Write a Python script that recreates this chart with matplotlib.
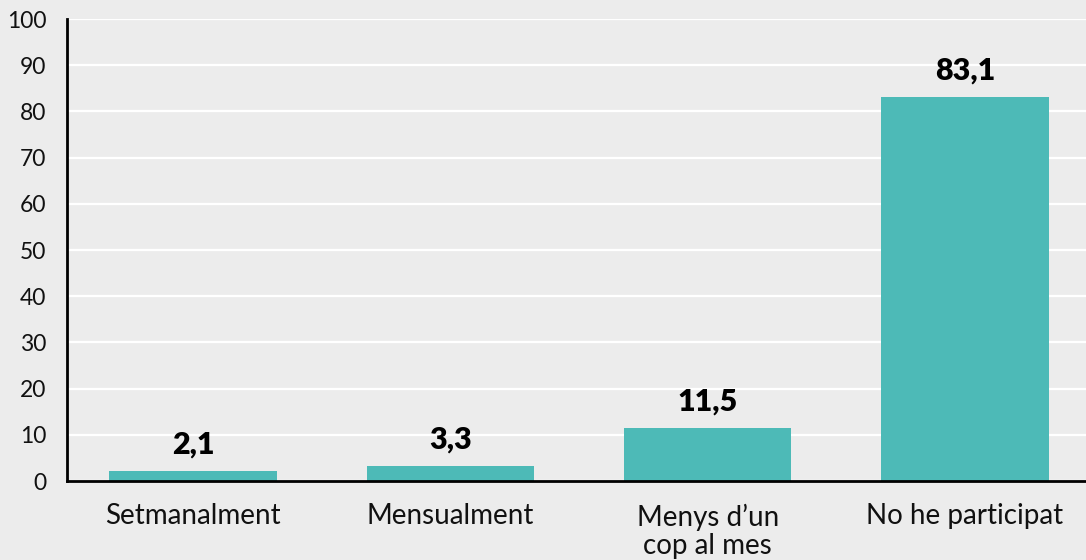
import matplotlib.pyplot as plt

categories = ["Setmanalment", "Mensualment", "Menys d\u2019un\ncop al mes", "No he participat"]
values = [2.1, 3.3, 11.5, 83.1]
value_labels = ["2,1", "3,3", "11,5", "83,1"]
y_ticks = [0, 10, 20, 30, 40, 50, 60, 70, 80, 90, 100]

BG = "#ececec"
BAR = "#4dbab7"

plt.rcParams['font.family'] = ['Lato', 'DejaVu Sans']

fig = plt.figure(figsize=(10.86, 5.6), dpi=100, facecolor=BG)
ax = fig.add_axes([0.0617, 0.141, 0.9383, 0.825], facecolor=BG)

x = range(len(categories))
ax.bar(x, values, width=0.65, color=BAR, zorder=3)

for xi, v, lab in zip(x, values, value_labels):
    ax.annotate(lab, (xi, v), xytext=(0, 9), textcoords="offset points",
                ha="center", va="bottom", fontsize=22, fontweight="heavy",
                color="black", zorder=4)

ax.set_xlim(-0.49, 3.47)
ax.set_ylim(0, 100)
ax.set_yticks(y_ticks)
ax.set_xticks(list(x))
ax.set_xticklabels(categories, fontsize=20, color="#111111", linespacing=1.1)
ax.tick_params(axis="y", labelsize=16.5, labelcolor="#111111", length=0, pad=15)
ax.tick_params(axis="x", length=0, pad=16)

ax.grid(axis="y", color="white", linewidth=1.6, zorder=0)
ax.set_axisbelow(True)
for s in ["top", "right"]:
    ax.spines[s].set_visible(False)
for s in ["left", "bottom"]:
    ax.spines[s].set_color("black")
    ax.spines[s].set_linewidth(2)
    ax.spines[s].set_zorder(5)

fig.savefig("out.png", dpi=100, facecolor=BG)
